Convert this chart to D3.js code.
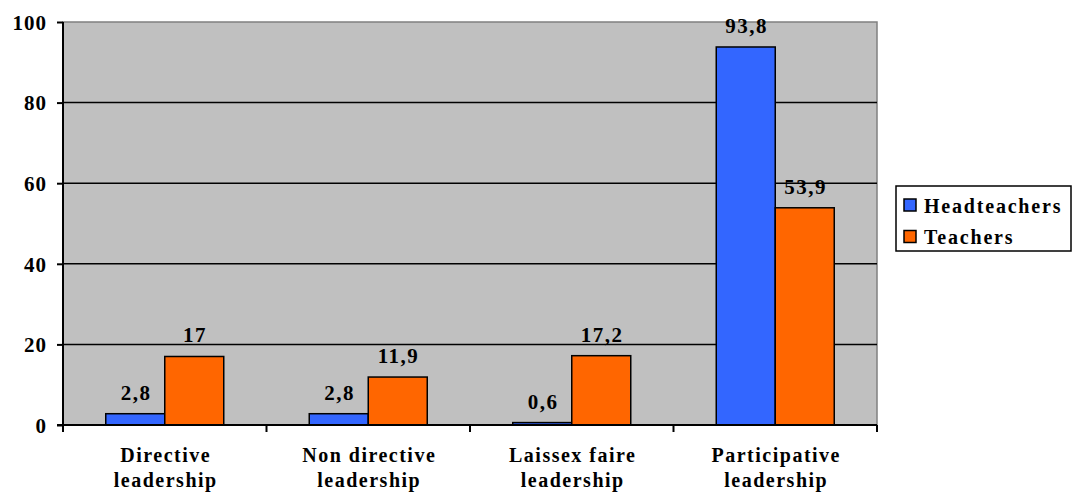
<!DOCTYPE html>
<html>
<head>
<meta charset="utf-8">
<script src="https://cdn.jsdelivr.net/npm/d3@7"></script>
<style>
  body { margin: 0; background: #fff; }
  text { font-family: "Liberation Serif", "Times New Roman", serif; font-weight: bold; }
</style>
</head>
<body>
<div id="chart"></div>
<script>
var width = 1072;
var height = 493;

// data
var categories = [["Directive", "leadership"], ["Non directive", "leadership"], ["Laissex faire", "leadership"], ["Participative", "leadership"]];
var seriesNames = ["Headteachers", "Teachers"];
var headteachers = [2.8, 2.8, 0.6, 93.8];
var teachers = [17, 11.9, 17.2, 53.9];
var yTicks = [0, 20, 40, 60, 80, 100];
var colors = ["#3366FF", "#FF6600"];

var margin = { left: 63, top: 22, right: 877, bottom: 425 };

var svg = d3.select("#chart")
  .append("svg")
  .attr("width", width)
  .attr("height", height);

var x = d3.scaleBand()
  .domain(d3.range(categories.length))
  .range([margin.left, margin.right]);

var xInner = d3.scaleBand()
  .domain(d3.range(seriesNames.length))
  .range([0, 118]);

var y = d3.scaleLinear()
  .domain([0, 100])
  .range([margin.bottom, margin.top]);

// plot background
svg.append("rect")
  .attr("x", margin.left)
  .attr("y", margin.top)
  .attr("width", margin.right - margin.left)
  .attr("height", margin.bottom - margin.top)
  .style("fill", "#C0C0C0")
  .style("stroke", "#808080")
  .style("stroke-width", 1.5);

// gridlines
svg.selectAll(".grid")
  .data(yTicks.filter(d => d > 0 && d < 100))
  .enter()
  .append("line")
  .attr("x1", margin.left)
  .attr("x2", margin.right)
  .attr("y1", d => y(d))
  .attr("y2", d => y(d))
  .style("stroke", "#000")
  .style("stroke-width", 1.5);

// bars
var rows = categories.map((c, i) => [headteachers[i], teachers[i]]);

var groups = svg.selectAll(".grp")
  .data(rows)
  .enter()
  .append("g")
  .attr("transform", (d, i) => "translate(" + (x(i) + (x.bandwidth() - 118) / 2) + ",0)");

groups.selectAll("rect")
  .data(d => d)
  .enter()
  .append("rect")
  .attr("x", (d, j) => xInner(j))
  .attr("y", d => y(d))
  .attr("width", xInner.bandwidth())
  .attr("height", d => y(0) - y(d))
  .style("fill", (d, j) => colors[j])
  .style("stroke", "#000")
  .style("stroke-width", 1.5);

groups.selectAll(".val")
  .data(d => d)
  .enter()
  .append("text")
  .attr("x", (d, j) => xInner(j) + xInner.bandwidth() / 2 + 0.75)
  .attr("y", d => y(d) - 14)
  .attr("text-anchor", "middle")
  .style("font-size", "21px")
  .style("letter-spacing", "1.5px")
  .text(d => String(d).replace(".", ","));

// y axis
var yAxis = svg.append("g")
  .attr("transform", "translate(" + margin.left + ",0)")
  .call(d3.axisLeft(y).tickValues(yTicks).tickSize(6).tickPadding(10));
yAxis.select(".domain").style("stroke", "#000").style("stroke-width", 2).attr("d", "M0," + margin.top + "V" + margin.bottom);
yAxis.selectAll(".tick line").style("stroke", "#000").style("stroke-width", 2);
yAxis.selectAll("text")
  .attr("dy", "0.35em")
  .style("font-size", "21px")
  .style("letter-spacing", "1px")
  .style("fill", "#000");

// x axis
var xAxisG = svg.append("g")
  .attr("transform", "translate(0," + margin.bottom + ")");
xAxisG.append("line")
  .attr("x1", margin.left - 6)
  .attr("x2", margin.right)
  .style("stroke", "#000")
  .style("stroke-width", 2);
xAxisG.selectAll(".xtick")
  .data(d3.range(categories.length + 1))
  .enter()
  .append("line")
  .attr("x1", d => margin.left + d * x.step())
  .attr("x2", d => margin.left + d * x.step())
  .attr("y1", 0)
  .attr("y2", 7)
  .style("stroke", "#000")
  .style("stroke-width", 2);

xAxisG.selectAll(".xlab")
  .data(categories)
  .enter()
  .append("text")
  .attr("x", (d, i) => x(i) + x.bandwidth() / 2 + 1)
  .attr("text-anchor", "middle")
  .style("font-size", "20px")
  .style("letter-spacing", "1.5px")
  .each(function(d) {
    d3.select(this).selectAll("tspan")
      .data(d)
      .enter()
      .append("tspan")
      .attr("x", d3.select(this).attr("x"))
      .attr("y", (t, k) => 37 + k * 25)
      .text(t => t);
  });

// legend
var legend = svg.append("g");
legend.append("rect")
  .attr("x", 896)
  .attr("y", 186)
  .attr("width", 175)
  .attr("height", 65)
  .style("fill", "#fff")
  .style("stroke", "#000")
  .style("stroke-width", 1.5);

var items = legend.selectAll(".item")
  .data(seriesNames)
  .enter()
  .append("g")
  .attr("transform", (d, i) => "translate(904," + (199 + i * 31.5) + ")");

items.append("rect")
  .attr("width", 12)
  .attr("height", 12)
  .style("fill", (d, i) => colors[i])
  .style("stroke", "#000")
  .style("stroke-width", 1.5);

items.append("text")
  .attr("x", 20)
  .attr("y", 13.5)
  .style("font-size", "20px")
  .style("letter-spacing", "1.8px")
  .text(d => d);
</script>
</body>
</html>
